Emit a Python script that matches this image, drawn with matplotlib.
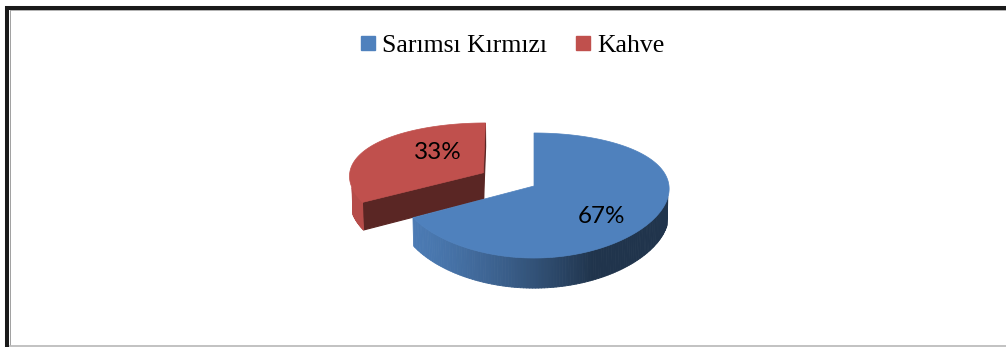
import numpy as np
import matplotlib
matplotlib.use('Agg')
import matplotlib.pyplot as plt
from matplotlib.collections import PolyCollection
from matplotlib.colors import to_rgb
from matplotlib.lines import Line2D

# data
labels = ['Sarımsı Kırmızı', 'Kahve']
values = [67, 33]
colors = ['#4f81bd', '#c0504d']
explode = [0.0, 0.44]
label_xy = [(602, 216), (438, 152)]

# camera / layout (px)
W, H = 1006, 347
cx, cy, scale = 534, 186, 135
elev = np.radians(26.9)
dist = 5.87
thick = 0.227
light = np.radians(205)
xpersp = 0.3   # horizontal perspective is weaker than vertical

cam_y = -dist * np.cos(elev)


def project(x, y, z):
    depth = dist + y * np.cos(elev) - z * np.sin(elev)
    sx = x * (dist / depth) ** xpersp
    sy = dist * (y * np.sin(elev) + z * np.cos(elev)) / depth
    return cx + scale * sx, cy - scale * sy


def shade(c, k):
    return tuple(np.clip(np.array(to_rgb(c)) * k, 0, 1))


fig = plt.figure(figsize=(W / 100, H / 100), dpi=100)
ax = fig.add_axes([0, 0, 1, 1])
ax.set_xlim(0, W)
ax.set_ylim(H, 0)
ax.axis('off')

# slice angles: start at 12 o'clock, go clockwise
fracs = np.array(values, dtype=float) / sum(values)
slices = []
start = 90.0
for i, f in enumerate(fracs):
    t2 = start
    t1 = start - 360 * f
    start = t1
    mid = np.radians((t1 + t2) / 2)
    ox, oy = explode[i] * np.cos(mid), explode[i] * np.sin(mid)
    slices.append((i, np.radians(t1), np.radians(t2), ox, oy))

# paint back to front
slices.sort(key=lambda s: -s[4])

for i, a1, a2, ox, oy in slices:
    col = colors[i]
    phi = np.linspace(a1, a2, 200)

    # radial cut faces
    for ang, nang in [(a1, a1 - np.pi / 2), (a2, a2 + np.pi / 2)]:
        nx, ny = np.cos(nang), np.sin(nang)
        if (0 - ox) * nx + (cam_y - oy) * ny > 0:
            rx, ry = ox + np.cos(ang), oy + np.sin(ang)
            pts = [project(ox, oy, 0), project(rx, ry, 0),
                   project(rx, ry, -thick), project(ox, oy, -thick)]
            c = shade(col, 0.47)
            ax.add_patch(plt.Polygon(pts, closed=True, facecolor=c,
                                     edgecolor=c, lw=0.8))

    # outer rim
    quads, qcols = [], []
    for p0, p1 in zip(phi[:-1], phi[1:]):
        m = (p0 + p1) / 2
        px, py = ox + np.cos(m), oy + np.sin(m)
        if (0 - px) * np.cos(m) + (cam_y - py) * np.sin(m) <= 0:
            continue
        x0, y0 = ox + np.cos(p0), oy + np.sin(p0)
        x1, y1 = ox + np.cos(p1), oy + np.sin(p1)
        quads.append([project(x0, y0, 0), project(x1, y1, 0),
                      project(x1, y1, -thick), project(x0, y0, -thick)])
        k = 0.4 + 0.55 * max(0.0, np.cos(m - light))
        qcols.append(shade(col, k))
    if quads:
        ax.add_collection(PolyCollection(quads, facecolors=qcols,
                                         edgecolors=qcols, linewidths=0.6))

    # top face
    top = [project(ox, oy, 0)] + [project(ox + np.cos(p), oy + np.sin(p), 0)
                                  for p in phi]
    ax.add_patch(plt.Polygon(top, closed=True, facecolor=col,
                             edgecolor=col, lw=0.5))

# percentage labels
for v, (tx, ty) in zip(values, label_xy):
    ax.text(tx, ty, f'{v}%', ha='center', va='center',
            fontsize=17.5, family='Lato', color='black')

# legend
handles = [Line2D([], [], marker='s', linestyle='none', markersize=10,
                  markerfacecolor=c, markeredgecolor=c) for c in colors]
fig.legend(handles, labels, loc='center', bbox_to_anchor=(0.5095, 0.870),
           ncol=2, frameon=False, handlelength=0.6, handletextpad=0.25,
           columnspacing=1.1, prop={'family': 'Liberation Serif', 'size': 18.5})

# frame
ax.plot([5, W], [7.5, 7.5], color='#1a1a1a', lw=2.9, solid_capstyle='butt')
ax.plot([7.5, 7.5], [6, H], color='#1a1a1a', lw=2.9, solid_capstyle='butt')
ax.plot([10, W], [10, 10], color='#b0b0b0', lw=0.7)
ax.plot([10.5, 10.5], [10, 345], color='#a0a0a0', lw=0.7)
ax.plot([10, W], [345.5, 345.5], color='#b8b8b8', lw=1.2)

fig.savefig('out.png', dpi=100)
